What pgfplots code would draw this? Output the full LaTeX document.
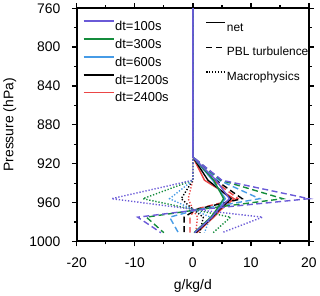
\documentclass[border=0pt]{standalone}
\usepackage{fontspec}
\setmainfont{Liberation Sans}
\usepackage{pgfplots}
\pgfplotsset{compat=1.18}
\definecolor{cP}{RGB}{106,90,215}
\definecolor{cG}{RGB}{20,140,60}
\definecolor{cB}{RGB}{70,155,230}
\definecolor{cK}{RGB}{0,0,0}
\definecolor{cR}{RGB}{235,70,70}
\pgfplotsset{
  net/.style={line width=1.4bp, forget plot},
  pbl/.style={line width=1.4bp, dash pattern=on 6bp off 3.5bp, forget plot},
  mac/.style={line width=1.4bp, dash pattern=on 1.3bp off 1.8bp, forget plot},
}
\begin{document}
\begin{tikzpicture}
\begin{axis}[at={(0,0)}, anchor=south west, scale only axis,
  width=233bp, height=234bp, hide axis,
  xmin=-20, xmax=20, ymin=760, ymax=1000,
  legend style={at={(axis description cs:0.541,0.952)}, anchor=north west, draw=none, fill=none,
    font=\fontsize{12}{12}\selectfont, nodes={inner sep=0pt, text height=9bp, text depth=0bp, anchor=west},
    row sep=15.5bp, column sep=1bp},
  legend cell align=left,
  legend image code/.code={\draw[#1] (0bp,4.3bp) -- (19bp,4.3bp);},
]
\addlegendimage{black, line width=1.4bp}\addlegendentry{net}
\addlegendimage{black, line width=1.4bp, dash pattern=on 6bp off 4bp}\addlegendentry{PBL turbulence}
\addlegendimage{black, line width=1.4bp, dash pattern=on 1.3bp off 1.6bp}\addlegendentry{Macrophysics}
\end{axis}
\begin{axis}[at={(0,0)}, anchor=south west, scale only axis,
  width=233bp, height=234bp,
  xmin=-20, xmax=20, ymin=760, ymax=1000, y dir=reverse,
  xtick={-20,-10,...,20}, minor xtick={-15,-5,5,15},
  ytick={760,800,...,1000}, minor ytick={780,820,...,980},
  xtick pos=both, ytick pos=both,
  tick align=outside, major tick length=5bp, minor tick length=3bp,
  every tick/.style={black, line width=1.3bp},
  axis line style={black, line width=2bp},
  ticklabel style={font=\fontsize{14}{14}\selectfont},
  xticklabel style={yshift=-8bp},
  yticklabel style={xshift=-8bp},
  /pgf/number format/assume math mode=true,
  /pgf/number format/1000 sep={},
  xlabel={g/kg/d}, ylabel={Pressure (hPa)},
  label style={font=\fontsize{14}{14}\selectfont},
  xlabel style={at={(axis description cs:0.5,-0.19)}, anchor=center},
  ylabel style={at={(axis description cs:-0.288,0.5)}, anchor=center},
  clip=false,
  legend style={at={(axis description cs:0.013,0.957)}, anchor=north west, draw=none, fill=none,
    font=\fontsize{13}{13}\selectfont, nodes={inner sep=0pt, text height=9.5bp, text depth=0bp, anchor=west},
    row sep=8bp, column sep=1bp},
  legend cell align=left,
  legend image code/.code={\draw[#1] (0bp,4.5bp) -- (30bp,4.5bp);},
]
% dt=2400s
\addplot[cR, mac] coordinates {(0,760)(0,937)(-0.8,956)(0,967)(0.8,975)(0.5,991)};
\addplot[cR, pbl] coordinates {(0,760)(0,913)(3.5,937)(7.8,956)(0.3,967)(-0.5,975)(-0.5,991)};
\addplot[cR, net] coordinates {(0,760)(0,913)(2.0,937)(7.1,956)(4.9,967)(3.6,975)(0.7,991)};
% dt=1200s
\addplot[cK, mac] coordinates {(0,760)(0,937)(-2,956)(0,967)(1.8,975)(1.2,991)};
\addplot[cK, pbl] coordinates {(0,760)(0,913)(4.0,937)(8.5,956)(0.6,967)(-1.5,975)(-1.5,991)};
\addplot[cK, net] coordinates {(0,760)(0,913)(2.6,937)(6.6,956)(4.6,967)(3.4,975)(0.5,991)};
% dt=600s
\addplot[cB, mac] coordinates {(0,760)(0,937)(-4,956)(0,967)(3,975)(2,991)};
\addplot[cB, pbl] coordinates {(0,760)(0,913)(4.5,937)(11.5,956)(1.0,967)(-4,975)(-2.5,991)};
\addplot[cB, net] coordinates {(0,760)(0,913)(3.4,937)(5.6,956)(4.2,967)(3.2,975)(0.3,991)};
% dt=300s
\addplot[cG, mac] coordinates {(0,760)(0,937)(-8.6,956)(0,967)(6.5,975)(3.5,991)};
\addplot[cG, pbl] coordinates {(0,760)(0,913)(4.8,937)(15.5,956)(1.2,967)(-8,975)(-5,991)};
\addplot[cG, net] coordinates {(0,760)(0,913)(3.6,937)(5.3,956)(4.1,967)(3.1,975)(0.2,991)};
% dt=100s
\addplot[cP, mac] coordinates {(0,760)(0,937)(-14,956)(0.2,967)(12,975)(5,991)};
\addplot[cP, pbl] coordinates {(0,760)(0,913)(5.0,937)(20,956)(1.5,967)(-9.5,975)(-5.5,991)};
\addplot[cP, net] coordinates {(0,760)(0,913)(4.0,937)(6.3,956)(4.4,967)(3.3,975)(0.3,991)};
\addlegendimage{color=cP, line width=1.4bp}\addlegendentry{dt=100s}
\addlegendimage{color=cG, line width=1.4bp}\addlegendentry{dt=300s}
\addlegendimage{color=cB, line width=1.4bp}\addlegendentry{dt=600s}
\addlegendimage{color=cK, line width=1.4bp}\addlegendentry{dt=1200s}
\addlegendimage{color=cR, line width=1.4bp}\addlegendentry{dt=2400s}
\end{axis}
\path (-77bp,-54bp) rectangle (243bp,241bp);
\end{tikzpicture}
\end{document}
